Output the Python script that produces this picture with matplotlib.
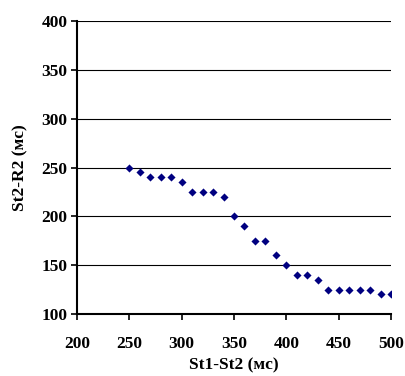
import matplotlib
matplotlib.use("Agg")
import matplotlib.pyplot as plt

x_vals = [250, 260, 270, 280, 290, 300, 310, 320, 330, 340, 350, 360, 370, 380,
          390, 400, 410, 420, 430, 440, 450, 460, 470, 480, 490, 500]
y_vals = [250, 245, 240, 240, 240, 235, 225, 225, 225, 220, 200, 190, 175, 175,
          160, 150, 140, 140, 135, 125, 125, 125, 125, 125, 120, 120]
x_ticks = [200, 250, 300, 350, 400, 450, 500]
y_ticks = [100, 150, 200, 250, 300, 350, 400]
x_label = "St1-St2 (мс)"
y_label = "St2-R2 (мс)"

plt.rcParams['font.family'] = ['Liberation Serif', 'DejaVu Serif']
plt.rcParams['font.weight'] = 'bold'

fig = plt.figure(figsize=(4.06, 3.76), dpi=100)
ax = fig.add_axes([77/406, 1-314/376, (391-77)/406, (314-21)/376])

for yt in y_ticks[1:]:
    ax.axhline(yt, color='black', linewidth=0.8, zorder=1)

ax.scatter(x_vals, y_vals, marker='D', s=17, color='#000080', zorder=3, linewidths=0)

ax.set_xlim(200, 500)
ax.set_ylim(100, 400)
ax.set_xticks(x_ticks)
ax.set_yticks(y_ticks)
ax.set_xticklabels([str(v) for v in x_ticks], fontsize=12.5, fontweight='bold')
ax.set_yticklabels([str(v) for v in y_ticks], fontsize=12.5, fontweight='bold')
ax.tick_params(axis='x', direction='out', length=4, width=1.2, pad=12)
ax.tick_params(axis='y', direction='out', length=4, width=1.2, pad=3)

for s in ['top', 'right']:
    ax.spines[s].set_visible(False)
for s in ['left', 'bottom']:
    ax.spines[s].set_linewidth(1.5)
    ax.spines[s].set_zorder(4)

ax.set_xlabel(x_label, fontsize=12.5, fontweight='bold', labelpad=4)
ax.set_ylabel(y_label, fontsize=12.5, fontweight='bold', labelpad=9)

fig.savefig("out.png", dpi=100)
